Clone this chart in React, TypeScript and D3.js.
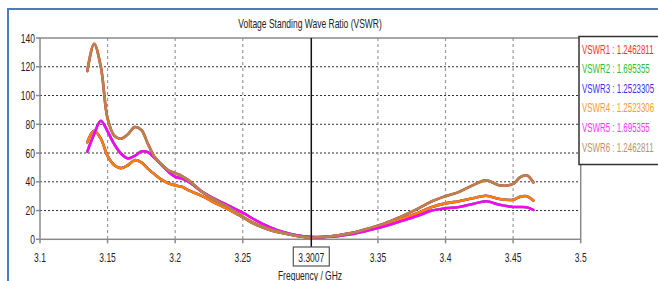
import { useRef, useEffect } from 'react';
import * as d3 from 'd3';

const W = 658;
const H = 281;

// frequency samples (GHz)
const freqs = [
  3.135, 3.14, 3.145, 3.15, 3.155, 3.16, 3.165, 3.17, 3.175, 3.18, 3.185, 3.19, 3.195,
  3.2, 3.205, 3.21, 3.22, 3.23, 3.24, 3.25, 3.26, 3.27, 3.28, 3.29, 3.3, 3.31, 3.32,
  3.33, 3.34, 3.35, 3.36, 3.37, 3.38, 3.39, 3.4, 3.41, 3.42, 3.43, 3.44, 3.45, 3.455,
  3.46, 3.465,
];

// VSWR1 / VSWR6 (same port result)
const vswrA = [
  117, 136, 120, 84, 72, 70, 73, 78, 76, 66, 57, 52, 48,
  46, 44, 41, 33, 27, 22, 15.8, 10.5, 7, 4.5, 2.5, 1.3, 1.6, 2.7,
  4.3, 6.8, 9.5, 13, 17, 21.5, 26.5, 30, 33, 37.5, 41, 37.5, 38.5, 43,
  44.5, 39.5,
];

// VSWR2 / VSWR5
const vswrB = [
  61, 73, 82.5, 75, 66, 59.5, 56.3, 58, 61, 60.5, 56.3, 51.7, 47,
  43.5, 42.2, 40, 33, 27.8, 23.2, 18.5, 13, 8.5, 5, 2.8, 1.7, 1.6, 2.2,
  3.5, 5.5, 7.8, 10.5, 13.5, 16.5, 20, 21.5, 22.5, 24.5, 26.5, 24, 22.5, 22.5,
  22.3, 20.5,
];

// VSWR3 / VSWR4
const vswrC = [
  67.5, 75.5, 70, 58, 51.5, 49.5, 51.5, 55, 53.5, 49, 45, 41.5, 39,
  37.5, 36.5, 34, 30, 25, 20.5, 15.3, 10, 6.5, 4.2, 2.4, 1.3, 1.6, 2.7,
  4.2, 6.3, 9, 12, 15, 18.5, 22.5, 25, 26.5, 28.5, 30.3, 28, 27.5, 29.5,
  30, 27,
];

const seriesNames = ['VSWR1', 'VSWR2', 'VSWR3', 'VSWR4', 'VSWR5', 'VSWR6'];
const seriesValues = [vswrA, vswrB, vswrC, vswrC, vswrB, vswrA];
const legendValues = ['1.2462811', '1.695355', '1.2523305', '1.2523306', '1.695355', '1.2462811'];
const lineColors = ['#ff0000', '#00b000', '#0000ff', '#ff8000', '#ff00ff', '#b5834f'];
const legendColors = ['#ff3030', '#33bb33', '#3333ee', '#ff9933', '#ff33ff', '#b89468'];

const xTicks = [3.1, 3.15, 3.2, 3.25, 3.35, 3.4, 3.45, 3.5];
const yTicks = [0, 20, 40, 60, 80, 100, 120, 140];
const cursorFreq = 3.3007;

const FONT = '"Liberation Sans", Arial, sans-serif';
const SQUEEZE = 0.68; // reference font is a condensed one

export default function App() {
  const svgRef = useRef<SVGSVGElement>(null);

  useEffect(() => {
    const svg = d3.select(svgRef.current);
    svg.selectAll('*').remove();

    const x = d3.scaleLinear().domain([3.1, 3.5]).range([40, 580.7]);
    const y = d3.scaleLinear().domain([0, 140]).range([239.3, 38]);

    // horizontally squeezed text, placed with a transform
    const label = (parent: any, tx: number, ty: number, str: string,
      anchor = 'start', color = '#222', size = 12.5, k = SQUEEZE) =>
      parent.append('text').attr('transform', `translate(${tx},${ty}) scale(${k},1)`)
        .attr('text-anchor', anchor).attr('font-family', FONT).attr('font-size', size)
        .attr('fill', color).text(str);

    // outer frame
    svg.append('rect').attr('x', 8).attr('y', 9).attr('width', W).attr('height', H)
      .attr('fill', 'white').attr('stroke', '#4a7ebb').attr('stroke-width', 2);

    label(svg, 310, 28, 'Voltage Standing Wave Ratio (VSWR)', 'middle');

    const g = svg.append('g');

    // grid
    yTicks.filter(t => t > 0 && t < 140).forEach(t => {
      g.append('line').attr('x1', x(3.1)).attr('x2', x(3.5)).attr('y1', y(t)).attr('y2', y(t))
        .attr('stroke', '#333').attr('stroke-width', 1).attr('stroke-dasharray', '2,2');
    });
    xTicks.filter(t => t > 3.1 && t < 3.5).forEach(t => {
      g.append('line').attr('x1', x(t)).attr('x2', x(t)).attr('y1', y(140)).attr('y2', y(0))
        .attr('stroke', '#999').attr('stroke-width', 1.2).attr('stroke-dasharray', '3,3');
    });

    // frame of plot
    g.append('rect').attr('x', x(3.1)).attr('y', y(140)).attr('width', x(3.5) - x(3.1))
      .attr('height', y(0) - y(140)).attr('fill', 'none').attr('stroke', '#8a8a8a').attr('stroke-width', 1.5);

    // ticks + labels
    yTicks.forEach(t => {
      g.append('line').attr('x1', x(3.1) - 4).attr('x2', x(3.1)).attr('y1', y(t)).attr('y2', y(t))
        .attr('stroke', '#8a8a8a').attr('stroke-width', 1.5);
      label(g, 35, y(t) + 4.5, String(t), 'end');
    });
    xTicks.forEach(t => {
      g.append('line').attr('x1', x(t)).attr('x2', x(t)).attr('y1', y(0)).attr('y2', y(0) + 4)
        .attr('stroke', '#8a8a8a').attr('stroke-width', 1.5);
      label(g, x(t), 262, String(t), 'middle');
    });

    // curves
    const line = d3.line<number>()
      .x((_, i) => x(freqs[i]))
      .y(d => y(d))
      .curve(d3.curveCatmullRom.alpha(0.5));

    seriesValues.forEach((vals, i) => {
      g.append('path').datum(vals).attr('d', line).attr('fill', 'none')
        .attr('stroke', lineColors[i]).attr('stroke-width', 2.6)
        .attr('stroke-linejoin', 'round').attr('stroke-linecap', 'round');
    });

    // marker line
    const cx = x(cursorFreq);
    g.append('line').attr('x1', cx).attr('x2', cx).attr('y1', y(140)).attr('y2', 247)
      .attr('stroke', '#111').attr('stroke-width', 1.5);
    g.append('rect').attr('x', cx - 18).attr('y', 247).attr('width', 36).attr('height', 19)
      .attr('fill', 'white').attr('stroke', '#555').attr('stroke-width', 1.2);
    label(g, cx, 262, String(cursorFreq), 'middle');

    label(g, 310, 279.5, 'Frequency / GHz', 'middle');

    // legend
    g.append('rect').attr('x', 579).attr('y', 36.5).attr('width', 90).attr('height', 128)
      .attr('fill', 'white').attr('stroke', '#333').attr('stroke-width', 1.5);
    seriesNames.forEach((name, i) => {
      label(g, 582, 53.5 + i * 19.6, `${name} : ${legendValues[i]}`, 'start', legendColors[i], 12, 0.66);
    });
  }, []);

  return (
    <svg ref={svgRef} width={W} height={H}
      style={{ position: 'absolute', left: 0, top: 0, background: 'white' }} />
  );
}
